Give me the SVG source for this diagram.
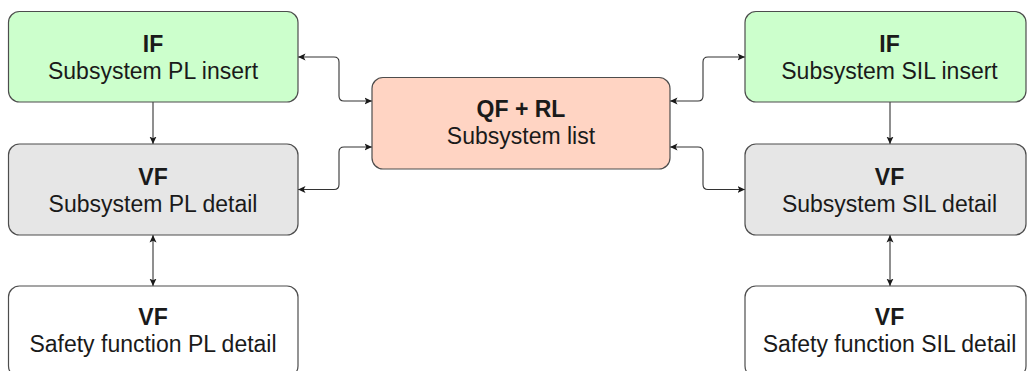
<svg xmlns="http://www.w3.org/2000/svg" width="1027" height="371" viewBox="0 0 1027 371">
  <defs>
    <marker id="arrow" viewBox="0 0 8 8" refX="7.5" refY="4" markerWidth="8" markerHeight="8" markerUnits="userSpaceOnUse" orient="auto-start-reverse">
      <path d="M0,0.5 L7.5,4 L0,7.5 L1.8,4 Z" fill="#1a1a1a"/>
    </marker>
  </defs>
  <style>
    .box { stroke: #4d4d4d; stroke-width: 1.2; }
    .if { fill: #ccffcc; }
    .vf { fill: #e6e6e6; }
    .sf { fill: #ffffff; }
    .qf { fill: #ffd4c3; }
    .t { font-family: "Liberation Sans", Arial, sans-serif; font-size: 23px; fill: #1a1a1a; text-anchor: middle; }
    .b { font-weight: bold; }
    .edge { fill: none; stroke: #333333; stroke-width: 1.1; }
  </style>
  <rect width="1027" height="371" fill="#ffffff"/>

  <!-- connectors -->
  <g id="connectors">
    <path class="edge" d="M298,57 H334 Q339,57 339,62 V96 Q339,101 344,101 H372" marker-start="url(#arrow)" marker-end="url(#arrow)"/>
    <path class="edge" d="M372,147 H344 Q339,147 339,152 V184.5 Q339,189.5 334,189.5 H298" marker-start="url(#arrow)" marker-end="url(#arrow)"/>
    <path class="edge" d="M670,101 H698 Q703,101 703,96 V62 Q703,57 708,57 H745" marker-start="url(#arrow)" marker-end="url(#arrow)"/>
    <path class="edge" d="M670,147 H698 Q703,147 703,152 V184.5 Q703,189.5 708,189.5 H745" marker-start="url(#arrow)" marker-end="url(#arrow)"/>
    <path class="edge" d="M153,102 V144" marker-end="url(#arrow)"/>
    <path class="edge" d="M153,235 V286" marker-start="url(#arrow)" marker-end="url(#arrow)"/>
    <path class="edge" d="M890,102 V144" marker-end="url(#arrow)"/>
    <path class="edge" d="M890,235 V286" marker-start="url(#arrow)" marker-end="url(#arrow)"/>
  </g>

  <!-- left column -->
  <g id="if-pl">
    <rect class="box if" x="8.5" y="11.5" width="289.5" height="90.5" rx="11"/>
    <text class="t b" x="153" y="52">IF</text>
    <text class="t" x="153" y="79">Subsystem PL insert</text>
  </g>
  <g id="vf-pl">
    <rect class="box vf" x="8.5" y="144" width="289.5" height="91" rx="11"/>
    <text class="t b" x="153" y="185">VF</text>
    <text class="t" x="153" y="212">Subsystem PL detail</text>
  </g>
  <g id="sf-pl">
    <rect class="box sf" x="8.5" y="286" width="289.5" height="91" rx="11"/>
    <text class="t b" x="153" y="325">VF</text>
    <text class="t" x="153" y="352">Safety function PL detail</text>
  </g>

  <!-- centre -->
  <g id="qf-rl">
    <rect class="box qf" x="372" y="77.5" width="298" height="91.5" rx="11"/>
    <text class="t b" x="521" y="117">QF + RL</text>
    <text class="t" x="521" y="144">Subsystem list</text>
  </g>

  <!-- right column -->
  <g id="if-sil">
    <rect class="box if" x="745" y="11.5" width="281" height="90.5" rx="11"/>
    <text class="t b" x="889.5" y="52">IF</text>
    <text class="t" x="889.5" y="79">Subsystem SIL insert</text>
  </g>
  <g id="vf-sil">
    <rect class="box vf" x="745" y="144" width="281" height="91" rx="11"/>
    <text class="t b" x="889.5" y="185">VF</text>
    <text class="t" x="889.5" y="212">Subsystem SIL detail</text>
  </g>
  <g id="sf-sil">
    <rect class="box sf" x="745" y="286" width="281" height="91" rx="11"/>
    <text class="t b" x="889.5" y="325">VF</text>
    <text class="t" x="889.5" y="352">Safety function SIL detail</text>
  </g>
</svg>
